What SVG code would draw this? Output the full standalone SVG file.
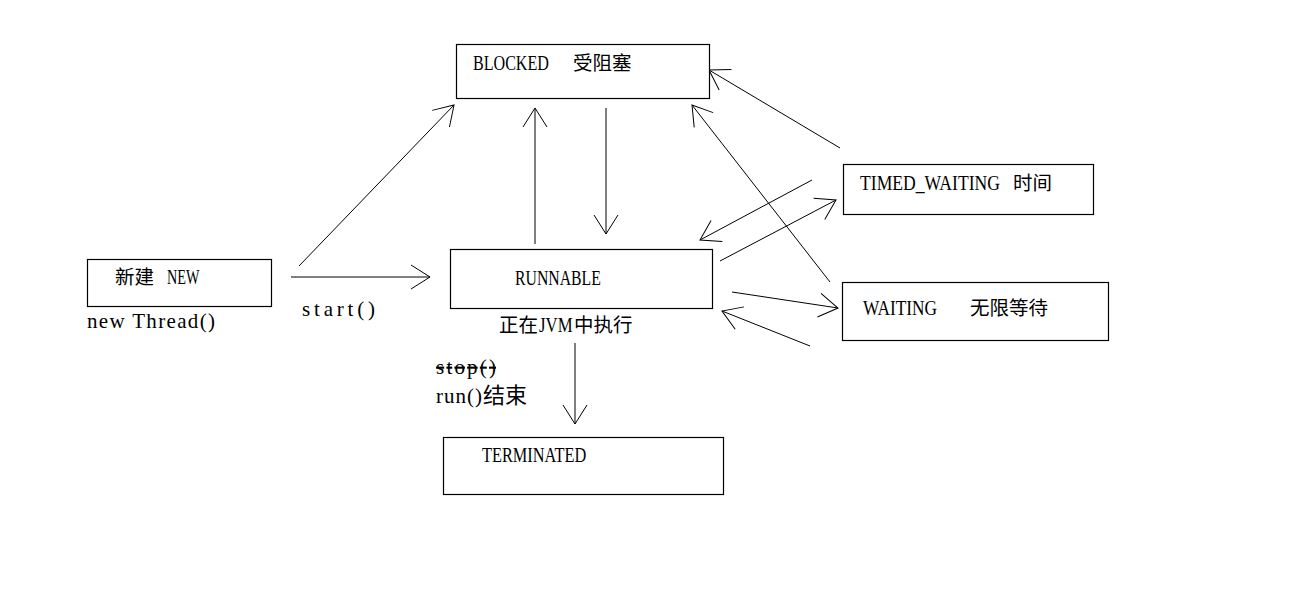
<svg xmlns="http://www.w3.org/2000/svg" width="1295" height="601" viewBox="0 0 1295 601">
<style>
.box{fill:#fff;stroke:#000;stroke-width:1.2}
.t{font-family:"Liberation Serif","Noto Sans CJK SC",serif;font-size:21px;fill:#000}
.c{font-family:"Noto Sans CJK SC","Liberation Serif",sans-serif;font-size:19.5px;fill:#000}
.ln{stroke:#000;stroke-width:1;fill:none;marker-end:url(#ah)}
</style>
<defs>
<marker id="ah" markerUnits="userSpaceOnUse" viewBox="-22 -15 24 30" markerWidth="24" markerHeight="30" refX="0" refY="0" orient="auto" overflow="visible">
<path d="M-19,-12 L0,0 L-19,12" fill="none" stroke="#000" stroke-width="1"/>
</marker>
</defs>
<rect width="1295" height="601" fill="#fff"/>
<g id="connectors">
<path class="ln" d="M299,266 L454,105"/>
<path class="ln" d="M291,277 L430,277"/>
<path class="ln" d="M535,244 L535,108"/>
<path class="ln" d="M606,108 L606,234"/>
<path class="ln" d="M840,148 L709,70"/>
<path class="ln" d="M830,282 L692,105"/>
<path class="ln" d="M812,180 L700,240"/>
<path class="ln" d="M720,261 L836,200"/>
<path class="ln" d="M732,292 L838,308"/>
<path class="ln" d="M810,346 L722,311"/>
<path class="ln" d="M575,343 L575,424"/>
</g>
<g id="blocked">
<rect class="box" x="456.5" y="44.5" width="253" height="54"/>
<text class="t" transform="translate(473,70) scale(0.766,1)">BLOCKED</text>
<text class="c" x="573" y="70">受阻塞</text>
</g>
<g id="new">
<rect class="box" x="87.5" y="259.5" width="184" height="47"/>
<text class="c" x="115" y="284">新建</text>
<text class="t" transform="translate(167,284) scale(0.68,1)">NEW</text>
<text class="t" x="87" y="328" textLength="128" lengthAdjust="spacing">new Thread()</text>
</g>
<g id="start-label">
<text class="t" x="302" y="316" textLength="73" lengthAdjust="spacing">start()</text>
</g>
<g id="runnable">
<rect class="box" x="450.5" y="249.5" width="262" height="59"/>
<text class="t" transform="translate(515,285) scale(0.752,1)">RUNNABLE</text>
<text class="c" x="499" y="332">正在</text>
<text class="t" transform="translate(539,332) scale(0.8,1)">JVM</text>
<text class="c" x="574" y="332">中执行</text>
</g>
<g id="end-labels">
<text class="t" x="436" y="374" textLength="60" lengthAdjust="spacing" text-decoration="line-through">stop()</text>
<text class="t" x="436" y="403" textLength="46" lengthAdjust="spacing">run()</text>
<text class="c" x="483" y="403" style="font-size:22px">结束</text>
</g>
<g id="timed-waiting">
<rect class="box" x="843.5" y="164.5" width="250" height="50"/>
<text class="t" transform="translate(860,190) scale(0.84,1)">TIMED_WAITING</text>
<text class="c" x="1013" y="190">时间</text>
</g>
<g id="waiting">
<rect class="box" x="842.5" y="282.5" width="266" height="58"/>
<text class="t" transform="translate(863,315) scale(0.825,1)">WAITING</text>
<text class="c" x="970" y="315">无限等待</text>
</g>
<g id="terminated">
<rect class="box" x="443.5" y="437.5" width="280" height="57"/>
<text class="t" transform="translate(482,462) scale(0.777,1)">TERMINATED</text>
</g>
</svg>
